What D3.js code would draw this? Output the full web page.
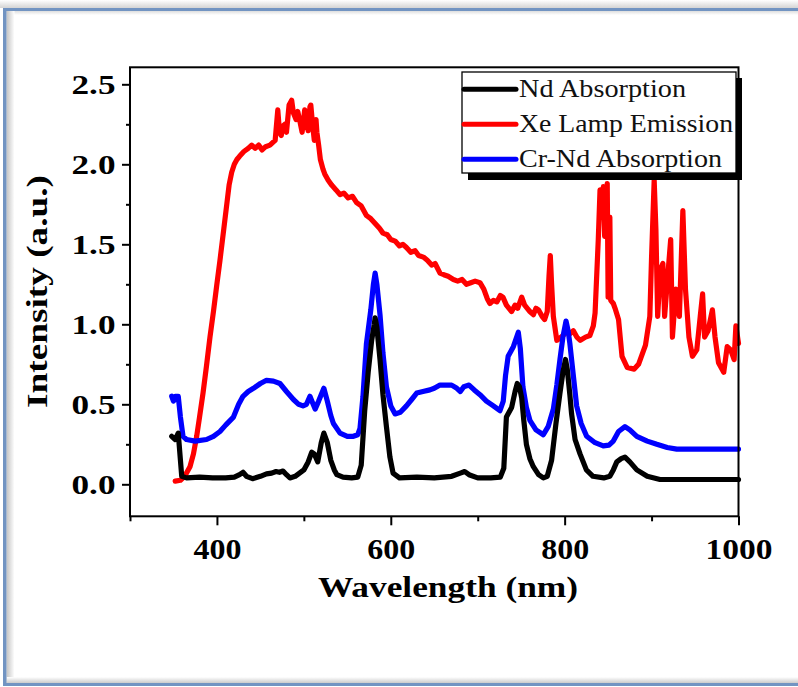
<!DOCTYPE html>
<html>
<head>
<meta charset="utf-8">
<script src="https://cdn.jsdelivr.net/npm/d3@7"></script>
<style>
  body { margin: 0; background: #fff; }
  svg { display: block; }
</style>
</head>
<body>
<div id="chart"></div>
<script>
// Nd absorption (black)
const ndWavelength = [348, 352, 355.5, 359.5, 365, 380, 395, 410, 420, 426, 430, 434, 441, 450, 457, 463, 468, 472, 476, 480,
  484, 490, 495, 500, 505, 509, 512, 516, 520, 523, 527, 531, 535, 538, 545, 555, 562, 566, 570, 574,
  578, 581, 582, 584, 587.6, 591, 595, 599, 602.6, 610, 630, 650, 670, 680, 685, 690, 700, 715, 726, 730,
  733, 739, 743, 745.5, 748, 750.6, 753, 756, 760, 764, 770, 775.5, 780, 785, 790, 794.6, 798, 801, 803, 806,
  808, 812, 817.7, 825, 832.6, 845, 852, 856, 860, 865, 869.4, 875, 883, 895, 909.7, 950, 1000];
const ndAbsorption = [0.30, 0.28, 0.32, 0.05, 0.04, 0.045, 0.04, 0.04, 0.045, 0.06, 0.075, 0.05, 0.035, 0.05, 0.065, 0.07, 0.08, 0.075, 0.083, 0.06,
  0.04, 0.05, 0.07, 0.09, 0.14, 0.20, 0.19, 0.14, 0.26, 0.32, 0.26, 0.15, 0.09, 0.06, 0.045, 0.04, 0.045, 0.12, 0.46, 0.70,
  0.90, 1.00, 1.04, 0.98, 0.78, 0.56, 0.36, 0.17, 0.07, 0.04, 0.045, 0.04, 0.05, 0.07, 0.08, 0.06, 0.04, 0.04, 0.045, 0.10,
  0.42, 0.48, 0.58, 0.63, 0.61, 0.54, 0.40, 0.25, 0.16, 0.11, 0.06, 0.04, 0.05, 0.15, 0.38, 0.57, 0.70, 0.78, 0.72, 0.56,
  0.44, 0.28, 0.19, 0.09, 0.05, 0.04, 0.05, 0.09, 0.14, 0.16, 0.17, 0.14, 0.09, 0.05, 0.03, 0.03, 0.03];

// Xe lamp emission (red)
const xeWavelength = [352, 358, 361, 365, 369, 373, 376.7, 380, 384, 388, 392, 396, 399.7, 403.5, 408, 412, 414, 417, 420, 423,
  426, 431, 436, 440, 444, 448, 452, 456, 461, 465, 467, 470, 472, 474, 476, 478, 480, 483, 486, 488,
  491, 493, 495, 498, 501, 503, 505, 507, 508, 510, 512, 514, 515, 517, 519, 522, 524, 528, 532, 537,
  541.6, 546, 551, 556, 560.7, 566, 572, 577, 582, 587, 591, 596, 600, 605, 610, 614, 618, 623, 628, 632,
  637.5, 642, 647, 651, 656.6, 661, 666, 672, 677, 682, 687, 692, 697, 702.6, 707, 711, 714, 718, 722, 726,
  729, 733, 736, 739, 743, 746, 750.6, 754, 757, 760, 764, 767, 770, 774, 777, 780, 782, 783.5, 785, 787,
  791, 796, 802, 806, 810, 814, 818, 824, 829, 833, 835, 838.7, 840.7, 843, 844.6, 846, 848, 849, 850, 852,
  853, 856, 858, 862, 866, 872, 880, 885, 893, 898, 900, 903, 905, 907, 910, 913, 915, 918, 922, 924,
  928, 932, 936, 939, 943, 947, 952, 956, 958.7, 961, 965, 970, 973, 977, 983, 987, 991, 995, 997, 1000];
const xeEmission = [0.02, 0.025, 0.04, 0.07, 0.11, 0.19, 0.30, 0.42, 0.57, 0.74, 0.92, 1.08, 1.24, 1.40, 1.60, 1.78, 1.87, 1.95, 2.00, 2.03,
  2.05, 2.08, 2.10, 2.12, 2.10, 2.12, 2.09, 2.11, 2.12, 2.14, 2.15, 2.34, 2.20, 2.18, 2.24, 2.25, 2.20, 2.37, 2.40, 2.32,
  2.28, 2.33, 2.28, 2.20, 2.34, 2.25, 2.21, 2.36, 2.37, 2.25, 2.15, 2.28, 2.20, 2.12, 2.03, 1.97, 1.94, 1.90, 1.87, 1.84,
  1.81, 1.82, 1.79, 1.80, 1.76, 1.74, 1.68, 1.66, 1.63, 1.60, 1.57, 1.56, 1.53, 1.52, 1.49, 1.50, 1.48, 1.45, 1.46, 1.43,
  1.42, 1.40, 1.37, 1.38, 1.32, 1.31, 1.30, 1.28, 1.27, 1.28, 1.25, 1.26, 1.27, 1.26, 1.22, 1.16, 1.13, 1.15, 1.14, 1.18,
  1.17, 1.12, 1.10, 1.08, 1.12, 1.10, 1.17, 1.12, 1.10, 1.08, 1.06, 1.10, 1.09, 1.05, 1.03, 1.08, 1.30, 1.43, 1.25, 1.05,
  0.90, 0.92, 0.95, 0.94, 0.96, 0.92, 0.90, 0.92, 0.93, 0.99, 1.07, 1.53, 1.84, 1.70, 1.86, 1.55, 1.80, 1.88, 1.17, 1.67,
  1.15, 1.13, 1.10, 1.03, 0.80, 0.73, 0.72, 0.75, 0.87, 1.05, 1.42, 1.90, 1.59, 1.05, 1.34, 1.38, 1.05, 1.26, 1.53, 0.92,
  1.22, 1.05, 1.71, 1.22, 0.92, 0.80, 0.84, 1.05, 1.19, 0.92, 0.96, 1.09, 0.92, 0.76, 0.70, 0.86, 0.84, 0.78, 0.99, 0.88];

// Cr-Nd absorption (blue)
const crNdWavelength = [348, 350, 352, 355.5, 358, 361, 365, 375, 388, 396, 403.5, 410, 419, 425, 430, 436, 442, 450, 457, 465,
  472.5, 480, 488, 494, 499, 503, 507, 510, 513, 517, 523, 527, 531, 534, 541.6, 550, 557, 562, 564.6, 568,
  572, 577, 580, 582, 584, 587.6, 591, 595, 600, 605, 611, 618, 624, 629.8, 637, 645, 650, 656.6, 664, 670,
  676, 680, 684, 690, 696, 702.6, 710, 718, 725.6, 729.4, 732, 735, 741, 746.7, 749, 752, 756, 760, 767, 775.5,
  781, 787, 791, 794.6, 798, 801.6, 804, 806, 810, 813.8, 819, 825.3, 835, 844.4, 851, 856, 862, 869.4, 875, 883,
  895, 906, 918, 929, 960, 1000];
const crNdAbsorption = [0.55, 0.52, 0.55, 0.55, 0.42, 0.30, 0.28, 0.27, 0.28, 0.30, 0.33, 0.37, 0.42, 0.50, 0.55, 0.58, 0.60, 0.63, 0.65, 0.645,
  0.63, 0.58, 0.53, 0.50, 0.49, 0.50, 0.55, 0.51, 0.47, 0.52, 0.60, 0.52, 0.43, 0.38, 0.32, 0.30, 0.30, 0.31, 0.35, 0.55,
  0.88, 1.09, 1.25, 1.32, 1.25, 1.06, 0.82, 0.61, 0.49, 0.44, 0.45, 0.49, 0.53, 0.57, 0.58, 0.59, 0.60, 0.62, 0.62, 0.62,
  0.60, 0.58, 0.61, 0.62, 0.59, 0.56, 0.52, 0.49, 0.46, 0.52, 0.68, 0.80, 0.86, 0.95, 0.85, 0.61, 0.48, 0.40, 0.34, 0.31,
  0.36, 0.47, 0.62, 0.78, 0.92, 1.02, 0.96, 0.88, 0.68, 0.49, 0.38, 0.30, 0.26, 0.24, 0.245, 0.27, 0.33, 0.36, 0.34, 0.30,
  0.27, 0.25, 0.23, 0.22, 0.22, 0.22];

const xMajor = [400, 600, 800, 1000];
const xMinor = [300, 500, 700, 900];
const yMajor = [0, 0.5, 1.0, 1.5, 2.0, 2.5];
const yMinor = [0.25, 0.75, 1.25, 1.75, 2.25];

const series = [
  { name: 'Nd Absorption', color: '#000000', wl: ndWavelength, val: ndAbsorption },
  { name: 'Xe Lamp Emission', color: '#ff0000', wl: xeWavelength, val: xeEmission },
  { name: 'Cr-Nd Absorption', color: '#0000ff', wl: crNdWavelength, val: crNdAbsorption }
];
const legendWidths = [167, 214, 203];
const drawOrder = [1, 2, 0];

const W = 798, H = 687;
const serif = "'Liberation Serif', 'Times New Roman', Times, serif";

const svg = d3.select('#chart').append('svg')
  .attr('width', W)
  .attr('height', H);

// picture frame
const defs = svg.append('defs');
function grad(id, x2, y2, c1, c2) {
  const g = defs.append('linearGradient').attr('id', id)
    .attr('x1', 0).attr('y1', 0).attr('x2', x2).attr('y2', y2);
  g.append('stop').attr('offset', 0).attr('stop-color', c1);
  g.append('stop').attr('offset', 1).attr('stop-color', c2);
}
grad('gTop', 0, 1, '#ffffff', '#d4d4d4');
grad('gLeft', 1, 0, '#c4c4c4', '#ffffff');
grad('gBottom', 0, 1, '#ffffff', '#cbcbcb');
grad('gUnderTop', 0, 1, '#dedede', '#ffffff');

svg.append('rect').attr('x', 0).attr('y', 0).attr('width', W).attr('height', 8).attr('fill', 'url(#gTop)');
svg.append('rect').attr('x', 6.5).attr('y', 11).attr('width', W).attr('height', 4).attr('fill', 'url(#gUnderTop)');
svg.append('rect').attr('x', 6.5).attr('y', 11).attr('width', 8).attr('height', 672).attr('fill', 'url(#gLeft)');
svg.append('rect').attr('x', 6.5).attr('y', 677).attr('width', W).attr('height', 6).attr('fill', 'url(#gBottom)');
const frameBlue = '#7294c2';
svg.append('rect').attr('x', 3).attr('y', 8).attr('width', W).attr('height', 3).attr('fill', frameBlue);
svg.append('rect').attr('x', 3).attr('y', 683).attr('width', W).attr('height', 3).attr('fill', frameBlue);
svg.append('rect').attr('x', 3).attr('y', 8).attr('width', 3.5).attr('height', 678).attr('fill', frameBlue);

// scales
const x = d3.scaleLinear().domain([300, 1000]).range([130, 738.5]);
const y = d3.scaleLinear().domain([-0.2, 2.6]).range([516.3, 68.3]);

// curves
const line = d3.line()
  .x(d => x(d[0]))
  .y(d => y(d[1]));

drawOrder.forEach(i => {
  const s = series[i];
  svg.append('path')
    .datum(s.wl.map((w, k) => [w, s.val[k]]))
    .attr('d', line)
    .attr('fill', 'none')
    .attr('stroke', s.color)
    .attr('stroke-width', 5.2)
    .attr('stroke-linejoin', 'round')
    .attr('stroke-linecap', 'round');
});

// axes
const xAxisG = svg.append('g').attr('transform', `translate(0, ${y(-0.2)})`);
xAxisG.append('g').call(d3.axisBottom(x).tickValues(xMinor).tickSize(5).tickFormat(''));
xAxisG.append('g').call(d3.axisBottom(x).tickValues(xMajor).tickSize(9).tickFormat(d3.format('d')));

const yAxisG = svg.append('g').attr('transform', `translate(${x(300)}, 0)`);
yAxisG.append('g').call(d3.axisLeft(y).tickValues(yMinor).tickSize(4).tickFormat(''));
yAxisG.append('g').call(d3.axisLeft(y).tickValues(yMajor).tickSize(8).tickFormat(d3.format('.1f')));

svg.selectAll('.domain').remove();
svg.selectAll('.tick line').attr('stroke', '#000').attr('stroke-width', 2);

xAxisG.selectAll('text')
  .attr('y', 42.5)
  .attr('dy', 0)
  .attr('fill', '#000')
  .style('font-family', serif)
  .style('font-weight', 'bold')
  .style('font-size', '30px')
  .attr('textLength', d => d >= 1000 ? 67 : 48)
  .attr('lengthAdjust', 'spacingAndGlyphs');

yAxisG.selectAll('text')
  .attr('x', -14.5)
  .attr('dy', 9.5)
  .attr('fill', '#000')
  .style('font-family', serif)
  .style('font-weight', 'bold')
  .style('font-size', '28px')
  .attr('textLength', 44)
  .attr('lengthAdjust', 'spacingAndGlyphs');

// plot frame
svg.append('rect')
  .attr('x', x(300))
  .attr('y', y(2.6) - 1)
  .attr('width', x(1000) - x(300))
  .attr('height', y(-0.2) - y(2.6) + 1)
  .attr('fill', 'none')
  .attr('stroke', '#000')
  .attr('stroke-width', 2);

// axis titles
svg.append('text')
  .attr('x', 448)
  .attr('y', 597)
  .attr('text-anchor', 'middle')
  .style('font-family', serif)
  .style('font-weight', 'bold')
  .style('font-size', '30px')
  .attr('textLength', 260)
  .attr('lengthAdjust', 'spacingAndGlyphs')
  .text('Wavelength (nm)');

svg.append('text')
  .attr('transform', 'translate(47, 291.5) rotate(-90)')
  .attr('text-anchor', 'middle')
  .style('font-family', serif)
  .style('font-weight', 'bold')
  .style('font-size', '30px')
  .attr('textLength', 233)
  .attr('lengthAdjust', 'spacingAndGlyphs')
  .text('Intensity (a.u.)');

// legend
const legend = svg.append('g');
legend.append('rect')
  .attr('x', 468).attr('y', 78).attr('width', 274).attr('height', 102)
  .attr('fill', '#000');
legend.append('rect')
  .attr('x', 462).attr('y', 72).attr('width', 274).attr('height', 101)
  .attr('fill', '#fff')
  .attr('stroke', '#000')
  .attr('stroke-width', 1.3);

series.forEach((s, i) => {
  const ly = 89.3 + i * 35;
  legend.append('line')
    .attr('x1', 464).attr('x2', 516)
    .attr('y1', ly).attr('y2', ly)
    .attr('stroke', s.color)
    .attr('stroke-width', 5)
    .attr('stroke-linecap', 'round');
  legend.append('text')
    .attr('x', 519)
    .attr('y', ly + 7.5)
    .style('font-family', serif)
    .style('font-size', '26px')
    .attr('fill', '#111')
    .attr('textLength', legendWidths[i])
    .attr('lengthAdjust', 'spacingAndGlyphs')
    .text(s.name);
});
</script>
</body>
</html>
